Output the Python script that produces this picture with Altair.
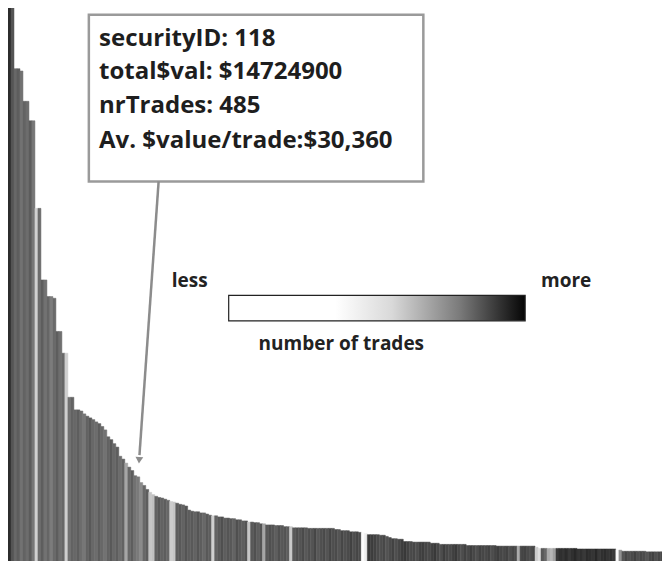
import altair as alt
import pandas as pd

# total $ value per security (in $M), sorted descending
total_value_m = [
    96.6, 96.6, 86.0, 86.0, 85.6, 80.3, 80.3, 76.9, 76.9, 61.6,
    61.6, 49.1, 49.1, 46.2, 46.2, 45.9, 40.1, 40.1, 36.3, 36.3,
    28.6, 28.6, 26.4, 26.4, 26.2, 25.7, 25.3, 25.0, 24.7, 24.3,
    24.0, 23.5, 22.9, 21.7, 21.2, 20.5, 19.9, 18.3, 17.8, 17.1,
    16.4, 15.8, 14.9, 14.7, 13.7, 13.2, 12.5, 12.0, 11.6, 11.3,
    11.1, 11.0, 10.8, 10.6, 10.4, 10.3, 10.1, 9.9, 9.8, 9.6,
    8.9, 8.7, 8.6, 8.6, 8.4, 8.4, 8.2, 8.0, 7.9, 7.9,
    7.7, 7.7, 7.5, 7.5, 7.4, 7.4, 7.2, 7.2, 7.0, 7.0,
    6.8, 6.8, 6.7, 6.7, 6.5, 6.5, 6.3, 6.3, 6.3, 6.2,
    6.2, 6.2, 6.0, 6.0, 6.0, 5.8, 5.8, 5.8, 5.8, 5.8,
    5.7, 5.7, 5.7, 5.7, 5.7, 5.7, 5.7, 5.7, 5.7, 5.5,
    5.5, 5.3, 5.3, 5.3, 5.1, 5.1, 5.1, 5.0, 5.0, 4.8,
    4.6, 4.6, 4.6, 4.6, 4.5, 4.5, 4.3, 4.1, 3.9, 3.9,
    3.8, 3.8, 3.4, 3.4, 3.4, 3.3, 3.3, 3.3, 3.3, 3.3,
    3.3, 3.1, 3.1, 3.1, 2.9, 2.9, 2.9, 2.9, 2.9, 2.9,
    2.9, 2.9, 2.9, 2.7, 2.7, 2.7, 2.7, 2.7, 2.7, 2.7,
    2.7, 2.7, 2.7, 2.6, 2.6, 2.6, 2.6, 2.6, 2.6, 2.6,
    2.6, 2.6, 2.6, 2.6, 2.6, 2.6, 2.4, 2.2, 2.2, 2.2,
    2.2, 2.2, 2.2, 2.2, 2.2, 2.2, 2.2, 2.2, 2.2, 2.2,
    2.1, 2.1, 2.1, 2.1, 2.1, 2.1, 2.1, 2.1, 2.1, 2.1,
    2.1, 2.1, 2.1, 2.0, 1.9, 1.7, 1.7, 1.7, 1.7, 1.7,
    1.7, 1.7, 1.7, 1.6, 1.6, 1.6, 1.6, 1.6, 1.6, 1.6,
]

# number of trades per security (drives the grey shade)
nr_trades = [
    820, 640, 560, 600, 520, 580, 540, 610, 500, 160,
    540, 600, 520, 570, 480, 550, 600, 530, 560, 170,
    520, 580, 560, 600, 540, 500, 580, 620, 560, 540,
    600, 560, 520, 580, 620, 560, 600, 540, 580, 320,
    560, 600, 520, 485, 420, 560, 600, 200, 220, 580,
    620, 580, 600, 560, 180, 200, 600, 620, 580, 640,
    600, 620, 580, 640, 600, 560, 620, 600, 170, 580,
    620, 660, 600, 640, 620, 580, 660, 620, 600, 640,
    200, 620, 660, 600, 640, 320, 620, 660, 640, 600,
    660, 620, 640, 600, 190, 620, 660, 640, 680, 620,
    660, 640, 700, 620, 660, 680, 640, 700, 660, 680,
    640, 700, 660, 680, 720, 660, 700, 680, 10, 60,
    760, 740, 720, 680, 660, 700, 640, 680, 720, 660,
    700, 740, 760, 720, 680, 700, 660, 720, 740, 700,
    680, 720, 760, 700, 660, 740, 700, 680, 720, 760,
    700, 660, 720, 680, 740, 700, 660, 720, 700, 680,
    720, 660, 700, 740, 700, 680, 720, 660, 700, 680,
    300, 700, 720, 680, 660, 700, 180, 120, 620, 560,
    300, 260, 340, 760, 800, 780, 820, 760, 800, 840,
    780, 800, 760, 820, 800, 780, 840, 760, 800, 820,
    780, 800, 760, 20, 400, 640, 700, 660, 680, 720,
    660, 700, 680, 640, 700, 720, 660, 700, 680, 660,
]

tooltip_lines = [
    "securityID: 118",
    "total$val: $14724900",
    "nrTrades: 485",
    "Av. $value/trade:$30,360",
]

legend_side_labels = ["less", "more"]
legend_title = "number of trades"

n = len(total_value_m)
df = pd.DataFrame({
    "rank": list(range(n)),
    "rank_end": [i + 1 for i in range(n)],
    "value": total_value_m,
    "trades": nr_trades,
})

FONT = "Open Sans"
X = alt.Scale(domain=[0, 218.4], nice=False, zero=False)
Y = alt.Scale(domain=[0, 96.6], nice=False, zero=True)
C = alt.Scale(domain=[0, 1000], range=["#ffffff", "#000000"])

bars = alt.Chart(df).mark_rect(strokeWidth=0.5, clip=True).encode(
    x=alt.X("rank:Q", scale=X, axis=None),
    x2="rank_end:Q",
    y=alt.Y("value:Q", scale=Y, axis=None),
    y2=alt.datum(0),
    color=alt.Color("trades:Q", scale=C, legend=None),
    stroke=alt.Stroke("trades:Q", scale=C, legend=None),
)

# annotation box (data coordinates)
box_df = pd.DataFrame({"x": [27.0], "x2": [138.7], "y": [95.4], "y2": [66.3]})
box = alt.Chart(box_df).mark_rect(fill="white", stroke="#9a9a9a", strokeWidth=2.5).encode(
    x=alt.X("x:Q", scale=X, axis=None), x2="x2:Q",
    y=alt.Y("y:Q", scale=Y, axis=None), y2="y2:Q",
)

txt_df = pd.DataFrame({
    "x": [30.4] * 4,
    "y": [90.0, 84.2, 78.2, 72.2],
    "t": tooltip_lines,
})
txt = alt.Chart(txt_df).mark_text(
    align="left", baseline="alphabetic", font=FONT, fontWeight="bold",
    fontSize=24, color="#1e1e1e",
).encode(
    x=alt.X("x:Q", scale=X, axis=None),
    y=alt.Y("y:Q", scale=Y, axis=None),
    text="t:N",
)

arrow_df = pd.DataFrame({"x": [50.3], "y": [66.3], "x2": [43.9], "y2": [18.5]})
arrow_line = alt.Chart(arrow_df).mark_rule(color="#8c8c8c", strokeWidth=2.5).encode(
    x=alt.X("x:Q", scale=X, axis=None), x2="x2:Q",
    y=alt.Y("y:Q", scale=Y, axis=None), y2="y2:Q",
)
head_df = pd.DataFrame({"x": [43.8], "y": [17.6]})
arrow_head = alt.Chart(head_df).mark_point(
    shape="triangle-down", filled=True, color="#8c8c8c", size=60, angle=4, opacity=1,
).encode(
    x=alt.X("x:Q", scale=X, axis=None),
    y=alt.Y("y:Q", scale=Y, axis=None),
)

# legend
grad_df = pd.DataFrame({"x": [73.7], "x2": [172.7], "y": [46.4], "y2": [41.95]})
grad = alt.Chart(grad_df).mark_rect(
    fill=alt.Gradient(
        gradient="linear",
        stops=[
            alt.GradientStop(offset=0.0, color="#ffffff"),
            alt.GradientStop(offset=0.36, color="#ffffff"),
            alt.GradientStop(offset=0.55, color="#d9d9d9"),
            alt.GradientStop(offset=0.78, color="#7a7a7a"),
            alt.GradientStop(offset=1.0, color="#050505"),
        ],
        x1=0, x2=1, y1=0, y2=0,
    ),
    stroke="#222222", strokeWidth=1.2,
).encode(
    x=alt.X("x:Q", scale=X, axis=None), x2="x2:Q",
    y=alt.Y("y:Q", scale=Y, axis=None), y2="y2:Q",
)

side_df = pd.DataFrame({"x": [54.7, 178.0], "y": [47.8, 47.8], "t": legend_side_labels})
side_txt = alt.Chart(side_df).mark_text(
    align="left", baseline="alphabetic", font=FONT, fontWeight="bold",
    fontSize=19, color="#222222",
).encode(
    x=alt.X("x:Q", scale=X, axis=None),
    y=alt.Y("y:Q", scale=Y, axis=None),
    text="t:N",
)
title_df = pd.DataFrame({"x": [111.3], "y": [36.8], "t": [legend_title]})
title_txt = alt.Chart(title_df).mark_text(
    align="center", baseline="alphabetic", font=FONT, fontWeight="bold",
    fontSize=19, color="#222222",
).encode(
    x=alt.X("x:Q", scale=X, axis=None),
    y=alt.Y("y:Q", scale=Y, axis=None),
    text="t:N",
)

chart = alt.layer(bars, box, txt, arrow_line, arrow_head, grad, side_txt, title_txt).properties(
    width=654, height=553,
    padding={"left": 0, "top": 0, "right": 0, "bottom": 0},
    autosize=alt.AutoSizeParams(type="none"),
    background="white",
).configure_view(strokeWidth=0)

chart.save("out.html", embed_options={"renderer": "svg", "actions": False})
